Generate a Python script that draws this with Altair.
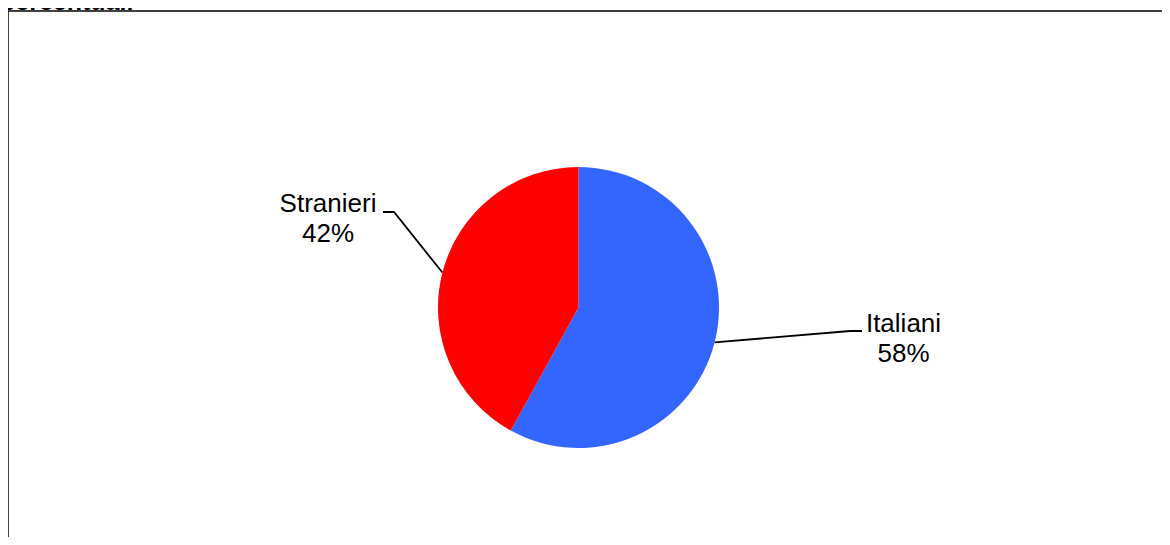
import math
import altair as alt
import pandas as pd

# ---- data ----
categories = ["Italiani", "Stranieri"]
values = [58, 42]
colors = ["#3366FF", "#FF0000"]
title_text = "percentuali"

# ---- layout (pixels inside the plot view) ----
W, H = 1154, 526
CX, CY, R = 570.5, 296.5, 140.5
LABEL_POS = {"Italiani": (895.5, 321), "Stranieri": (320, 201)}
ELBOW = {"Italiani": [(842, 320), (854, 320)], "Stranieri": [(386, 201), (375, 201)]}
FONT = "Liberation Sans"

total = sum(values)
slices = pd.DataFrame({
    "cat": categories,
    "val": values,
    "idx": list(range(len(categories))),
})
slices["label"] = [f"{c}\n{round(v / total * 100)}%" for c, v in zip(categories, values)]
slices["lx"] = [LABEL_POS[c][0] for c in categories]
slices["ly"] = [LABEL_POS[c][1] for c in categories]

# leader lines: from the slice's mid-angle on the rim to the label
rows = []
cum = 0.0
for c, v in zip(categories, values):
    mid = (cum + v / 2) / total * 2 * math.pi
    cum += v
    pts = [(CX + R * math.sin(mid), CY - R * math.cos(mid))] + ELBOW[c]
    for k, (px, py) in enumerate(pts):
        rows.append({"cat": c, "k": k, "px": px, "py": py})
lines = pd.DataFrame(rows)

xs = alt.Scale(domain=[0, W], range=[0, W])
ys = alt.Scale(domain=[0, H], range=[0, H])

pie = alt.Chart(slices).mark_arc(outerRadius=R, stroke=None).encode(
    theta=alt.Theta("val:Q", stack=True),
    order=alt.Order("idx:Q"),
    color=alt.Color("cat:N", scale=alt.Scale(domain=categories, range=colors), legend=None),
    x=alt.value(CX),
    y=alt.value(CY),
)

leaders = alt.Chart(lines).mark_line(color="black", strokeWidth=1.8).encode(
    x=alt.X("px:Q", scale=xs, axis=None),
    y=alt.Y("py:Q", scale=ys, axis=None),
    detail="cat:N",
    order="k:Q",
)

labels = alt.Chart(slices).mark_text(
    font=FONT, fontSize=26, align="center", baseline="alphabetic",
    lineBreak="\n", lineHeight=30, color="black",
).encode(
    x=alt.X("lx:Q", scale=xs, axis=None),
    y=alt.Y("ly:Q", scale=ys, axis=None),
    text="label:N",
)

frame_top = alt.Chart(pd.DataFrame({"f": [0]})).mark_rule(color="black", strokeWidth=1.5).encode(
    x=alt.value(0), x2=alt.value(W + 20), y=alt.value(0)
)
frame_left = alt.Chart(pd.DataFrame({"f": [0]})).mark_rule(color="black", strokeWidth=1.5).encode(
    x=alt.value(0), y=alt.value(0), y2=alt.value(H + 20)
)

title = alt.Chart(pd.DataFrame({"t": [title_text]})).mark_text(
    font=FONT, fontSize=25, fontWeight="bold", align="left", baseline="alphabetic",
    color="black",
).encode(x=alt.value(-8), y=alt.value(-1), text="t:N")

chart = alt.layer(frame_top, frame_left, leaders, pie, labels, title).properties(
    width=W, height=H,
    padding={"left": 0, "top": 3, "right": 0, "bottom": 0},
    autosize=alt.AutoSizeParams(type="none"),
    background="white",
).configure_view(stroke=None)

chart.save("out.html", embed_options={"renderer": "svg", "actions": False})
